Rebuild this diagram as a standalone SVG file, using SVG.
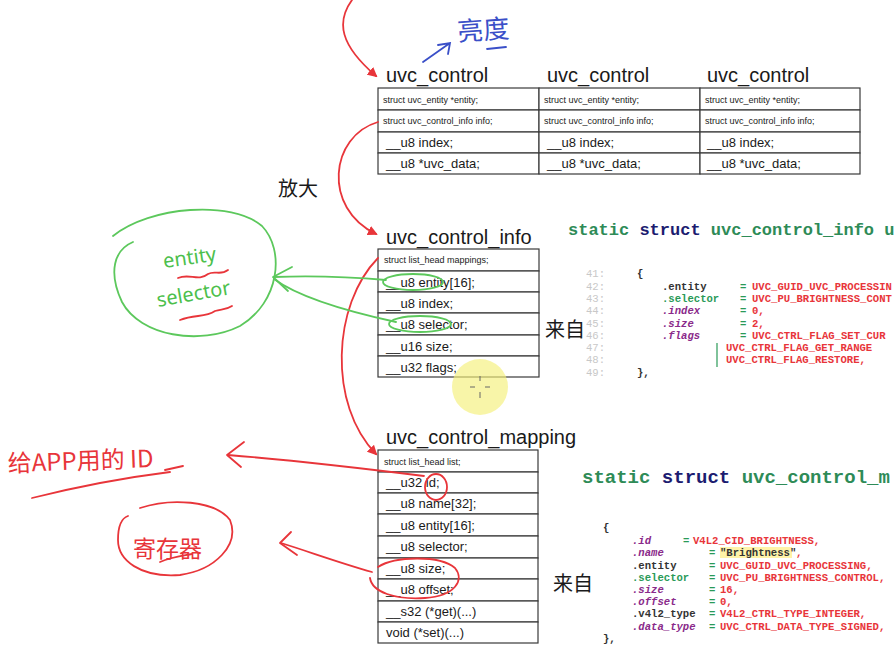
<svg xmlns="http://www.w3.org/2000/svg" width="896" height="671" viewBox="0 0 896 671">
<style>
.bg{fill:#ffffff}
.cell{fill:#ffffff;stroke:#3a3a3a;stroke-width:1.2}
.title{font-family:"Liberation Sans",Arial,sans-serif;font-size:20px;fill:#1a1a1a}
.sm{font-family:"Liberation Sans",Arial,sans-serif;font-size:9px;fill:#1a1a1a}
.lg{font-family:"Liberation Sans",Arial,sans-serif;font-size:13px;fill:#1a1a1a}
.cjk{font-family:"Noto Sans CJK SC","Noto Sans",sans-serif;font-size:20px;fill:#1a1a1a}
.hd1{font-family:"Liberation Mono","DejaVu Sans Mono",monospace;font-size:17px;font-weight:bold}
.hd2{font-family:"Liberation Mono","DejaVu Sans Mono",monospace;font-size:19px;font-weight:bold}
.code{font-family:"Liberation Mono","DejaVu Sans Mono",monospace;font-size:10.6px;font-weight:bold}
.ln{fill:#c8c8c8;font-weight:normal}
.kw{fill:#2e8b57}
.st{fill:#1c1c70}
.fd{fill:#333333}
.fg{fill:#2a9a58}
.fp{fill:#8a2a8a;font-style:italic}
.eq{fill:#2a9a58}
.val{fill:#e8353a}
.red{fill:none;stroke:#e8353a;stroke-width:1.8;stroke-linecap:round;stroke-linejoin:round}
.grn{fill:none;stroke:#5cc85c;stroke-width:1.8;stroke-linecap:round;stroke-linejoin:round}
.blu{fill:none;stroke:#3a4fc8;stroke-width:1.8;stroke-linecap:round}
.hwr{font-family:"Noto Sans CJK SC","Noto Sans",sans-serif;fill:#e8353a}
.hwg{font-family:"Noto Sans","DejaVu Sans",sans-serif;fill:#4cbf4c}
</style>
<defs>
<marker id="ah" markerWidth="10" markerHeight="10" refX="8" refY="5" orient="auto" markerUnits="userSpaceOnUse">
<path d="M0,0 L10,5 L0,10 Z" fill="#e8353a"/>
</marker>
</defs>
<rect class="bg" x="0" y="0" width="896" height="671"/>

<!-- uvc_control x3 -->
<g id="uvc_control_1">
<text class="title" x="386" y="82">uvc_control</text>
<rect class="cell" x="378" y="88" width="161" height="22"/>
<rect class="cell" x="378" y="110" width="161" height="22"/>
<rect class="cell" x="378" y="132" width="161" height="21"/>
<rect class="cell" x="378" y="153" width="161" height="21"/>
<text class="sm" x="383" y="103">struct uvc_entity *entity;</text>
<text class="sm" x="383" y="124">struct uvc_control_info info;</text>
<text class="lg" x="386" y="147">__u8 index;</text>
<text class="lg" x="386" y="168">__u8 *uvc_data;</text>
</g>
<g id="uvc_control_2">
<text class="title" x="547" y="82">uvc_control</text>
<rect class="cell" x="539" y="88" width="161" height="22"/>
<rect class="cell" x="539" y="110" width="161" height="22"/>
<rect class="cell" x="539" y="132" width="161" height="21"/>
<rect class="cell" x="539" y="153" width="161" height="21"/>
<text class="sm" x="544" y="103">struct uvc_entity *entity;</text>
<text class="sm" x="544" y="124">struct uvc_control_info info;</text>
<text class="lg" x="547" y="147">__u8 index;</text>
<text class="lg" x="547" y="168">__u8 *uvc_data;</text>
</g>
<g id="uvc_control_3">
<text class="title" x="707" y="82">uvc_control</text>
<rect class="cell" x="700" y="88" width="160" height="22"/>
<rect class="cell" x="700" y="110" width="160" height="22"/>
<rect class="cell" x="700" y="132" width="160" height="21"/>
<rect class="cell" x="700" y="153" width="160" height="21"/>
<text class="sm" x="705" y="103">struct uvc_entity *entity;</text>
<text class="sm" x="705" y="124">struct uvc_control_info info;</text>
<text class="lg" x="707" y="147">__u8 index;</text>
<text class="lg" x="707" y="168">__u8 *uvc_data;</text>
</g>

<!-- uvc_control_info -->
<g id="uvc_control_info">
<text class="title" x="386" y="244">uvc_control_info</text>
<rect class="cell" x="378" y="249" width="161" height="22"/>
<rect class="cell" x="378" y="271" width="161" height="21"/>
<rect class="cell" x="378" y="292" width="161" height="21"/>
<rect class="cell" x="378" y="313" width="161" height="22"/>
<rect class="cell" x="378" y="335" width="161" height="21"/>
<rect class="cell" x="378" y="356" width="161" height="21"/>
<text class="sm" x="384" y="263">struct list_head mappings;</text>
<text class="lg" x="386" y="287">__u8 entity[16];</text>
<text class="lg" x="386" y="308">__u8 index;</text>
<text class="lg" x="386" y="329">__u8 selector;</text>
<text class="lg" x="386" y="351">__u16 size;</text>
<text class="lg" x="386" y="372">__u32 flags;</text>
</g>

<!-- uvc_control_mapping -->
<g id="uvc_control_mapping">
<text class="title" x="386" y="444">uvc_control_mapping</text>
<rect class="cell" x="378" y="450" width="160" height="22"/>
<rect class="cell" x="378" y="472" width="160" height="21"/>
<rect class="cell" x="378" y="493" width="160" height="21"/>
<rect class="cell" x="378" y="514" width="160" height="22"/>
<rect class="cell" x="378" y="536" width="160" height="22"/>
<rect class="cell" x="378" y="558" width="160" height="21"/>
<rect class="cell" x="378" y="579" width="160" height="22"/>
<rect class="cell" x="378" y="601" width="160" height="21"/>
<rect class="cell" x="378" y="622" width="160" height="21"/>
<text class="sm" x="384" y="465">struct list_head list;</text>
<text class="lg" x="386" y="487">__u32 id;</text>
<text class="lg" x="386" y="508">__u8 name[32];</text>
<text class="lg" x="386" y="530">__u8 entity[16];</text>
<text class="lg" x="386" y="551">__u8 selector;</text>
<text class="lg" x="386" y="573">__u8 size;</text>
<text class="lg" x="386" y="594">__u8 offset;</text>
<text class="lg" x="386" y="616">__s32 (*get)(...)</text>
<text class="lg" x="386" y="637">void (*set)(...)</text>
</g>

<!-- labels -->
<g id="label_fangda"><text class="cjk" x="278" y="196">放大</text></g>
<g id="label_laizi_1"><text class="cjk" x="545" y="337" font-size="19">来自</text></g>
<g id="label_laizi_2"><text class="cjk" x="553" y="591">来自</text></g>

<!-- code block 1 -->
<g id="code_info">
<text class="hd1" x="568" y="235"><tspan class="kw">static</tspan> <tspan class="st">struct</tspan> <tspan class="kw">uvc_control_info u</tspan></text>
<text class="code ln" x="586" y="277">41:</text>
<text class="code ln" x="586" y="290">42:</text>
<text class="code ln" x="586" y="302">43:</text>
<text class="code ln" x="586" y="314">44:</text>
<text class="code ln" x="586" y="327">45:</text>
<text class="code ln" x="586" y="339">46:</text>
<text class="code ln" x="586" y="351">47:</text>
<text class="code ln" x="586" y="363">48:</text>
<text class="code ln" x="586" y="376">49:</text>
<text class="code fd" x="637" y="277">{</text>
<text class="code fd" x="662" y="290">.entity</text>
<text class="code fg" x="662" y="302">.selector</text>
<text class="code fp" x="662" y="314">.index</text>
<text class="code fp" x="662" y="327">.size</text>
<text class="code fp" x="662" y="339">.flags</text>
<text class="code eq" x="740" y="290">=</text>
<text class="code eq" x="740" y="302">=</text>
<text class="code eq" x="740" y="314">=</text>
<text class="code eq" x="740" y="327">=</text>
<text class="code eq" x="740" y="339">=</text>
<text class="code val" x="752" y="290">UVC_GUID_UVC_PROCESSIN</text>
<text class="code val" x="752" y="302">UVC_PU_BRIGHTNESS_CONT</text>
<text class="code val" x="752" y="314">0,</text>
<text class="code val" x="752" y="327">2,</text>
<text class="code val" x="752" y="339">UVC_CTRL_FLAG_SET_CUR</text>
<line x1="717" y1="343" x2="717" y2="367" stroke="#2a9a58" stroke-width="1.2"/>
<text class="code val" x="726" y="351">UVC_CTRL_FLAG_GET_RANGE</text>
<text class="code val" x="726" y="363">UVC_CTRL_FLAG_RESTORE,</text>
<text class="code fd" x="637" y="376">},</text>
</g>

<!-- code block 2 -->
<g id="code_mapping">
<text class="hd2" x="582" y="483"><tspan class="kw">static</tspan> <tspan class="st">struct</tspan> <tspan class="kw">uvc_control_m</tspan></text>
<text class="code fd" x="603" y="531">{</text>
<text class="code fp" x="632" y="544">.id</text>
<text class="code fp" x="632" y="556">.name</text>
<text class="code fd" x="632" y="569">.entity</text>
<text class="code fg" x="632" y="581">.selector</text>
<text class="code fp" x="632" y="593">.size</text>
<text class="code fp" x="632" y="605">.offset</text>
<text class="code fd" x="632" y="617">.v4l2_type</text>
<text class="code fp" x="632" y="630">.data_type</text>
<text class="code eq" x="683" y="544">=</text>
<text class="code val" x="693" y="544">V4L2_CID_BRIGHTNESS,</text>
<text class="code eq" x="709" y="556">=</text>
<rect x="720" y="547" width="72" height="11" fill="#fff3a8"/>
<text class="code fd" x="720" y="556">"Brightness"</text>
<text class="code val" x="796" y="556">,</text>
<text class="code eq" x="709" y="569">=</text>
<text class="code val" x="720" y="569">UVC_GUID_UVC_PROCESSING,</text>
<text class="code eq" x="709" y="581">=</text>
<text class="code val" x="720" y="581">UVC_PU_BRIGHTNESS_CONTROL,</text>
<text class="code eq" x="709" y="593">=</text>
<text class="code val" x="720" y="593">16,</text>
<text class="code eq" x="709" y="605">=</text>
<text class="code val" x="720" y="605">0,</text>
<text class="code eq" x="709" y="617">=</text>
<text class="code val" x="720" y="617">V4L2_CTRL_TYPE_INTEGER,</text>
<text class="code eq" x="709" y="630">=</text>
<text class="code val" x="720" y="630">UVC_CTRL_DATA_TYPE_SIGNED,</text>
<text class="code fd" x="603" y="642">},</text>
</g>

<!-- connectors -->
<g id="connectors">
<path class="red" d="M352,0 C336,22 340,45 376,76" marker-end="url(#ah)"/>
<path class="red" d="M378,122 C330,136 322,208 376,234" marker-end="url(#ah)"/>
<path class="red" d="M378,258 C332,305 328,405 376,454" marker-end="url(#ah)"/>
<!-- green arrows to entity/selector note -->
<path class="grn" d="M386,280 C340,276 300,276 274,277"/>
<path class="grn" d="M396,322 C350,312 300,298 274,279"/>
<path class="grn" d="M292,267 L273,277 L288,291"/>
<!-- red arrows to left notes -->
<path class="red" d="M424,476 C360,468 290,460 228,455"/>
<path class="red" d="M244,442 L227,455 L241,467"/>
<path class="red" d="M372,572 C340,563 310,552 281,543"/>
<path class="red" d="M291,532 L280,543 L297,555"/>
</g>

<!-- highlight circles on fields -->
<g id="marks">
<ellipse cx="413" cy="282" rx="30" ry="8" class="grn"/>
<ellipse cx="420" cy="324" rx="31" ry="8" class="grn"/>
<ellipse cx="436" cy="487" rx="11" ry="13" class="red"/>
<path class="red" d="M378,567 C395,556 440,555 455,568 C465,580 455,596 425,598 C395,600 372,592 370,578"/>
</g>

<!-- handwritten notes -->
<g id="note_brightness">
<text class="hwr" x="458" y="41" font-size="26" style="fill:#3a4fc8" transform="rotate(-4 458 41)">亮度</text>
<path class="blu" d="M487,49 L506,47"/>
<path class="blu" d="M423,62 L450,43 M438,45 L450,43 L448,54"/>
</g>
<g id="note_entity_selector">
<path class="grn" d="M113,236 C150,206 232,200 262,226 C285,250 280,302 240,326 C200,346 140,336 122,302 C108,272 114,250 133,242"/>
<text class="hwg" x="164" y="268" font-size="20" transform="rotate(-8 164 268)">entity</text>
<text class="hwg" x="158" y="307" font-size="20" transform="rotate(-10 158 307)">selector</text>
<path class="red" d="M178,278 C190,273 198,282 208,274 C215,270 220,276 228,270" stroke-width="1.5"/>
<path class="red" d="M180,320 C195,314 205,318 215,311 C222,309 226,310 232,306" stroke-width="1.5"/>
</g>
<g id="note_app_id">
<text class="hwr" x="8" y="472" font-size="24" transform="rotate(-2 8 472)">给APP用的 ID</text>
<path class="red" d="M32,498 C80,486 130,477 170,472"/>
<path class="red" d="M165,470 L183,466"/>
</g>
<g id="note_register">
<path class="red" d="M140,508 C170,498 215,500 230,520 C240,545 215,570 180,575 C140,578 118,560 118,540 C118,525 122,518 128,516"/>
<text class="hwr" x="133" y="557" font-size="23">寄存器</text>
<path class="red" d="M160,562 C172,557 182,556 192,554" stroke-width="2.2"/>
</g>

<!-- cursor highlight -->
<g id="cursor">
<circle cx="480" cy="387" r="28" fill="#f4f07a" opacity="0.65"/>
<path d="M480,376 L480,381 M480,392 L480,398 M470,387 L475,387 M485,387 L490,387" stroke="#666" stroke-width="1"/>
</g>
</svg>
